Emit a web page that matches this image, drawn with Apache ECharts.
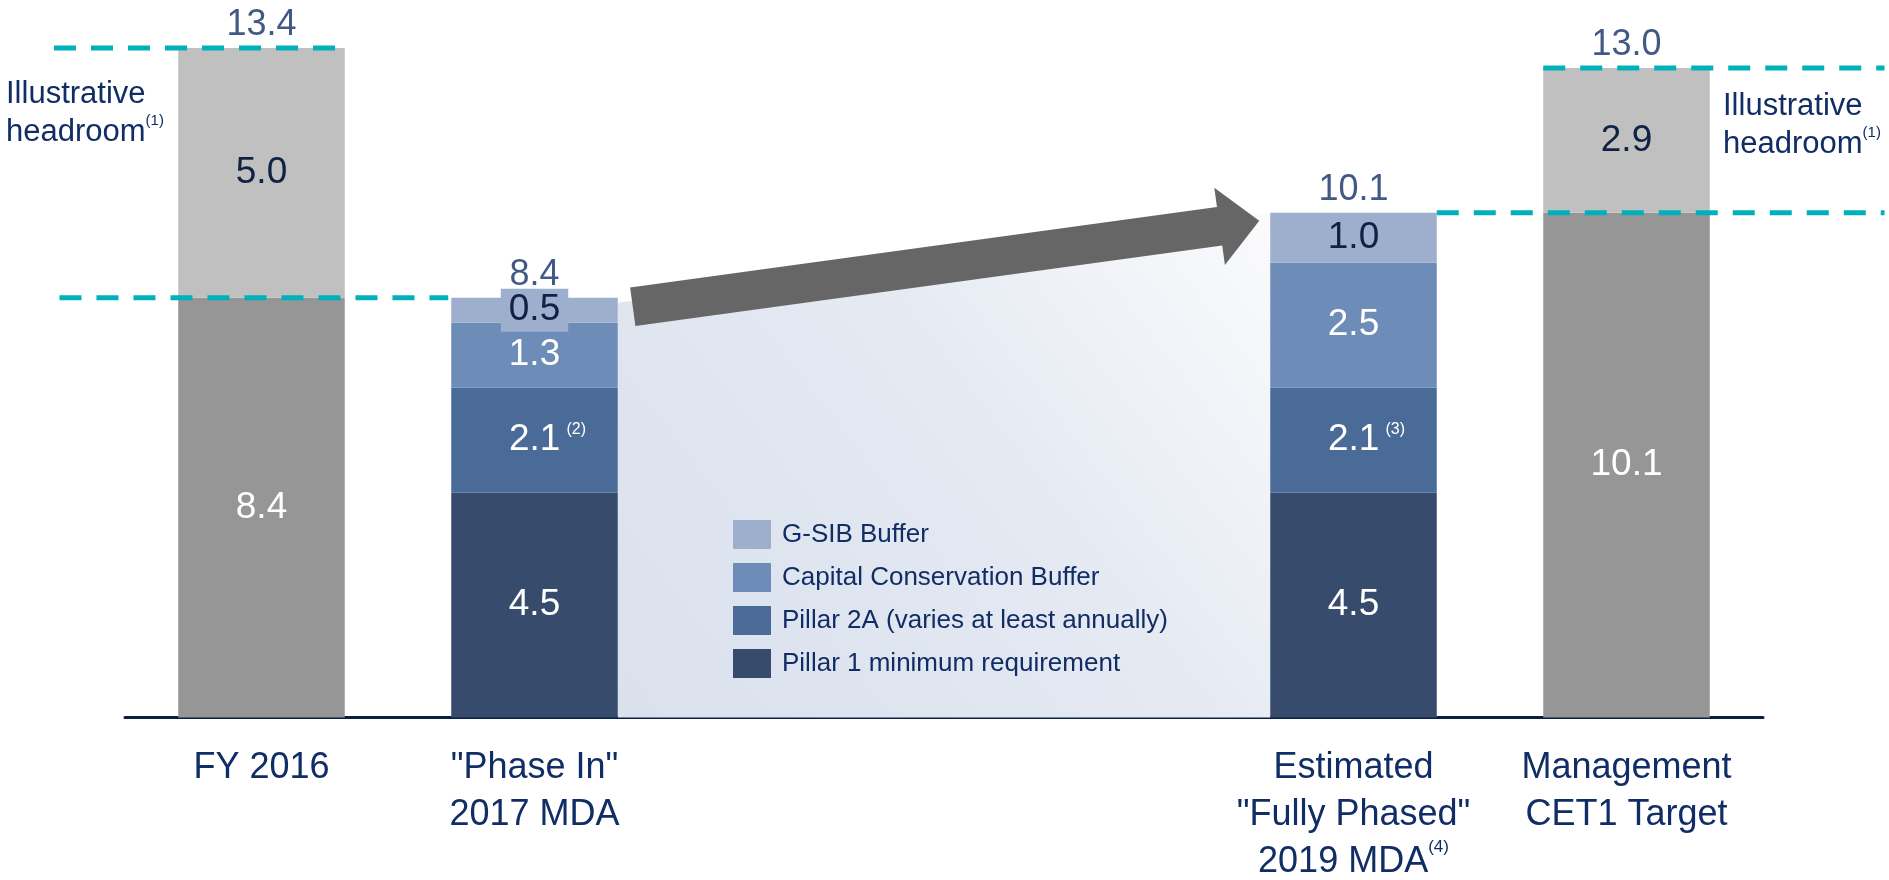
<!DOCTYPE html>
<html>
<head>
<meta charset="utf-8">
<title>CET1 requirements and target</title>
<script src="https://cdn.jsdelivr.net/npm/echarts@6/dist/echarts.min.js"></script>
<style>
  html, body { margin: 0; padding: 0; background: #ffffff; }
  #chart { width: 1889px; height: 880px; }
</style>
</head>
<body>
<div id="chart"></div>
<script>
// ---- data -------------------------------------------------------------
const categories = ['FY 2016', '"Phase In"\n2017 MDA', '', ' ', 'Estimated\n"Fully Phased"\n2019 MDA', 'Management\nCET1 Target'];
const categoryNotes = ['', '', '', '', '(4)', ''];

const baseCapital        = [8.4, '-', '-', '-', '-', 10.1];
const pillar1            = ['-', 4.5, '-', '-', 4.5, '-'];
const pillar2A           = ['-', 2.1, '-', '-', 2.1, '-'];
const pillar2ANotes      = ['', '(2)', '', '', '(3)', ''];
const conservationBuffer = ['-', 1.3, '-', '-', 2.5, '-'];
const gsibBuffer         = ['-', 0.5, '-', '-', 1.0, '-'];
const headroom           = [5.0, '-', '-', '-', '-', 2.9];

const legendNames = ['G-SIB Buffer', 'Capital Conservation Buffer', 'Pillar 2A (varies at least annually)', 'Pillar 1 minimum requirement'];

// ---- derived ----------------------------------------------------------
const stackParts = [baseCapital, pillar1, pillar2A, conservationBuffer, gsibBuffer, headroom];
const totals = categories.map((_, i) => {
  const vals = stackParts.map(a => a[i]).filter(v => v !== '-');
  return vals.length ? Math.round(vals.reduce((s, v) => s + v, 0) * 10) / 10 : '-';
});
const requirementTop = categories.map((_, i) => {
  const vals = [baseCapital, pillar1, pillar2A, conservationBuffer, gsibBuffer].map(a => a[i]).filter(v => v !== '-');
  return vals.length ? Math.round(vals.reduce((s, v) => s + v, 0) * 10) / 10 : '-';
});

// ---- styling ----------------------------------------------------------
const FONT = '"Liberation Sans", Arial, Helvetica, sans-serif';
const NAVY = '#112d66';
const DARK_LABEL = '#0f2244';
const BAR_RATIO = 0.61;
const SEG_FONT = 37;
const COLORS = {
  base: '#969696',
  headroom: '#c0c0c0',
  pillar1: '#374c6c',
  pillar2A: '#4a6a98',
  ccb: '#6d8cb7',
  gsib: '#9dafcc',
  teal: '#00b1ba',
  arrow: '#666666'
};

function segLabel(color) {
  return {
    show: true, position: 'inside', color: color, fontSize: SEG_FONT, fontFamily: FONT,
    formatter: p => Number(p.value).toFixed(1)
  };
}

function barSeries(name, data, color, labelColor, extra) {
  return Object.assign({
    name: name, type: 'bar', stack: 'cet1', barWidth: (BAR_RATIO * 100) + '%',
    data: data, itemStyle: { color: color }, label: segLabel(labelColor),
    emphasis: { disabled: true }, z: 2
  }, extra || {});
}

// helpers for custom drawing on the category axis
function bandInfo(api) {
  const band = api.size([1, 0])[0];
  return { band: band, half: band * BAR_RATIO / 2 };
}

const chart = echarts.init(document.getElementById('chart'), null, { renderer: 'canvas' });

const option = {
  animation: false,
  backgroundColor: '#ffffff',
  textStyle: { fontFamily: FONT },
  grid: { left: 125, right: 126, top: 18, bottom: 160, containLabel: false },
  xAxis: {
    type: 'category',
    data: categories,
    axisLine: { show: true, lineStyle: { color: '#0b1f40', width: 3 } },
    axisTick: { show: false },
    axisLabel: {
      interval: 0, margin: 27,
      formatter: (value, idx) => {
        const lines = value.trim() ? value.split('\n') : [''];
        return lines.map((ln, k) => {
          const note = (k === lines.length - 1 && categoryNotes[idx]) ? '{s|' + categoryNotes[idx] + '}' : '';
          return '{a|' + ln + '}' + note;
        }).join('\n');
      },
      rich: {
        a: { fontSize: 36, lineHeight: 47, color: NAVY, fontFamily: FONT },
        s: { fontSize: 17, color: NAVY, fontFamily: FONT, verticalAlign: 'top' }
      }
    }
  },
  yAxis: { type: 'value', min: 0, max: 14, show: false, splitLine: { show: false } },
  legend: {
    data: legendNames,
    orient: 'vertical', left: 728, top: 515,
    itemWidth: 38, itemHeight: 29, itemGap: 14,
    icon: 'rect', selectedMode: false,
    textStyle: { fontSize: 26, color: NAVY, fontFamily: FONT, padding: [0, 0, 0, 6] }
  },
  series: [
    // shaded band between the phase-in and fully phased requirements
    {
      type: 'custom', name: 'phase-in band', z: 1, silent: true, clip: false,
      data: [[1, requirementTop[1], 4, requirementTop[4]]],
      encode: { x: [0, 2], y: [1, 3] },
      renderItem: (params, api) => {
        const { half } = bandInfo(api);
        const a = api.coord([api.value(0), api.value(1)]);
        const b = api.coord([api.value(2), api.value(3)]);
        const base = api.coord([api.value(0), 0])[1];
        const x0 = a[0] + half, x1 = b[0] - half;
        return {
          type: 'polygon',
          shape: { points: [[x0, a[1] + 5], [x1, b[1]], [x1, base], [x0, base]] },
          style: {
            fill: new echarts.graphic.LinearGradient(0, 1, 1, 0, [
              { offset: 0, color: '#dae1ed' },
              { offset: 0.55, color: '#e4e9f2' },
              { offset: 1, color: '#fbfbfd' }
            ])
          }
        };
      }
    },
    barSeries('Base', baseCapital, COLORS.base, '#ffffff'),
    barSeries(legendNames[3], pillar1, COLORS.pillar1, '#ffffff'),
    barSeries(legendNames[2], pillar2A, COLORS.pillar2A, '#ffffff', {
      label: {
        show: true, position: 'inside', fontFamily: FONT,
        formatter: p => '{gap|}{v|' + Number(p.value).toFixed(1) + '}{s|' + pillar2ANotes[p.dataIndex] + '}',
        rich: {
          gap: { width: 26 },
          v: { fontSize: SEG_FONT, color: '#ffffff', fontFamily: FONT },
          s: { fontSize: 16, color: '#ffffff', fontFamily: FONT, verticalAlign: 'top', padding: [0, 0, 0, 6] }
        }
      }
    }),
    barSeries(legendNames[1], conservationBuffer, COLORS.ccb, '#ffffff'),
    barSeries(legendNames[0], gsibBuffer.map((v, i) => (v !== '-' && i === 1)
      ? { value: v, label: { backgroundColor: COLORS.gsib, padding: [3, 8] } }
      : v), COLORS.gsib, DARK_LABEL),
    barSeries('Illustrative headroom', headroom, COLORS.headroom, DARK_LABEL),
    // totals above each bar
    {
      type: 'scatter', name: 'total', silent: true, z: 3,
      data: totals, symbol: 'rect', symbolSize: 1,
      itemStyle: { color: 'transparent' },
      label: {
        show: true, position: 'top', distance: 4,
        fontSize: 36, color: '#132f68', fontFamily: FONT,
        formatter: p => Number(p.value).toFixed(1)
      }
    },
    // dashed headroom guides
    {
      type: 'custom', name: 'headroom guides', z: 4, silent: true, clip: false,
      data: [
        [0, 0, totals[0]],
        [0, 1, baseCapital[0]],
        [4, 5, totals[4]],
        [5, 5, totals[5]]
      ],
      encode: { x: [0, 1], y: 2 },
      renderItem: (params, api) => {
        const { band, half } = bandInfo(api);
        const c0 = api.coord([api.value(0), api.value(2)]);
        const c1 = api.coord([api.value(1), api.value(2)]);
        const ends = [
          [c0[0] - band * 0.76, c1[0] + half],
          [c0[0] - band * 0.74, c1[0] - half - 3],
          [c0[0] + half, c1[0] + band * 0.945],
          [c0[0] - half, c1[0] + band * 0.945]
        ][params.dataIndex];
        return {
          type: 'line',
          shape: { x1: ends[0], y1: c0[1], x2: ends[1], y2: c0[1] },
          style: { stroke: COLORS.teal, lineWidth: 5, lineDash: [22, 15] }
        };
      }
    },
    // phase-in arrow
    {
      type: 'custom', name: 'phase-in arrow', z: 5, silent: true, clip: false,
      data: [[1, requirementTop[1], 4, requirementTop[4]]],
      encode: { x: [0, 2], y: [1, 3] },
      renderItem: (params, api) => {
        const { half } = bandInfo(api);
        const a = api.coord([api.value(0), api.value(1)]);
        const b = api.coord([api.value(2), api.value(3)]);
        const tail = [a[0] + half + 15, a[1] + 9];
        const tip = [b[0] - half - 11, b[1] + 8];
        const dx = tip[0] - tail[0], dy = tip[1] - tail[1];
        const len = Math.sqrt(dx * dx + dy * dy);
        const u = [dx / len, dy / len];
        const n = [-u[1], u[0]];
        const sh = 19.5, hh = 39, hl = 40;
        const bs = [tip[0] - u[0] * hl, tip[1] - u[1] * hl];
        const P = (p, k) => [p[0] + n[0] * k, p[1] + n[1] * k];
        return {
          type: 'polygon',
          shape: { points: [P(tail, sh), P(bs, sh), P(bs, hh), tip, P(bs, -hh), P(bs, -sh), P(tail, -sh)] },
          style: { fill: COLORS.arrow }
        };
      }
    }
  ],
  graphic: [
    {
      type: 'text', left: 6, top: 79, silent: true,
      style: {
        text: '{a|Illustrative}\n{a|headroom}{s|(1)}',
        rich: {
          a: { fontSize: 31, lineHeight: 38, fill: NAVY, fontFamily: FONT },
          s: { fontSize: 15, fill: NAVY, fontFamily: FONT, verticalAlign: 'top' }
        }
      }
    },
    {
      type: 'text', left: 1723, top: 91, silent: true,
      style: {
        text: '{a|Illustrative}\n{a|headroom}{s|(1)}',
        rich: {
          a: { fontSize: 31, lineHeight: 38, fill: NAVY, fontFamily: FONT },
          s: { fontSize: 15, fill: NAVY, fontFamily: FONT, verticalAlign: 'top' }
        }
      }
    },
    {
      type: 'text', x: 939, y: 337, rotation: 6.8 * Math.PI / 180, silent: true,
      style: {
        text: 'Regulatory phase in', fontSize: 30, fill: '#0b1f44', fontFamily: FONT,
        align: 'center', verticalAlign: 'middle'
      }
    }
  ]
};

chart.setOption(option);
</script>
</body>
</html>
